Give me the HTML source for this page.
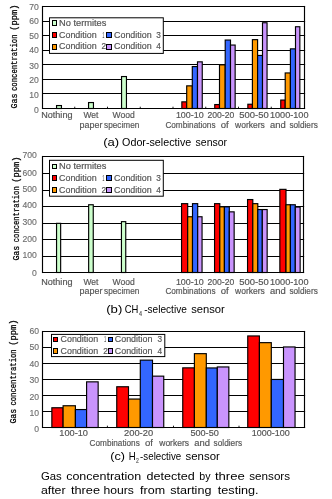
<!DOCTYPE html>
<html><head><meta charset="utf-8"><style>
html,body{margin:0;padding:0;background:#fff;width:332px;height:499px;overflow:hidden}
svg{display:block;font-family:"Liberation Sans", sans-serif;will-change:transform}
</style></head><body>
<svg width="332" height="499" viewBox="0 0 332 499">
<line x1="42.00" y1="6.50" x2="305.10" y2="6.50" stroke="#000" stroke-width="1.15"/>
<line x1="42.00" y1="21.50" x2="305.10" y2="21.50" stroke="#000" stroke-width="1.15"/>
<line x1="42.00" y1="35.50" x2="305.10" y2="35.50" stroke="#000" stroke-width="1.15"/>
<line x1="42.00" y1="50.50" x2="305.10" y2="50.50" stroke="#000" stroke-width="1.15"/>
<line x1="42.00" y1="64.50" x2="305.10" y2="64.50" stroke="#000" stroke-width="1.15"/>
<line x1="42.00" y1="79.50" x2="305.10" y2="79.50" stroke="#000" stroke-width="1.15"/>
<line x1="42.00" y1="93.50" x2="305.10" y2="93.50" stroke="#000" stroke-width="1.15"/>
<line x1="42.00" y1="108.50" x2="305.10" y2="108.50" stroke="#000" stroke-width="1.15"/>
<line x1="42.50" y1="5.95" x2="42.50" y2="109.05" stroke="#000" stroke-width="1.15"/>
<line x1="304.50" y1="5.95" x2="304.50" y2="109.05" stroke="#000" stroke-width="1.15"/>
<line x1="74.75" y1="106.70" x2="74.75" y2="108.50" stroke="#000" stroke-width="0.9"/>
<line x1="107.50" y1="106.70" x2="107.50" y2="108.50" stroke="#000" stroke-width="0.9"/>
<line x1="140.25" y1="106.70" x2="140.25" y2="108.50" stroke="#000" stroke-width="0.9"/>
<line x1="173.00" y1="106.70" x2="173.00" y2="108.50" stroke="#000" stroke-width="0.9"/>
<line x1="205.75" y1="106.70" x2="205.75" y2="108.50" stroke="#000" stroke-width="0.9"/>
<line x1="238.50" y1="106.70" x2="238.50" y2="108.50" stroke="#000" stroke-width="0.9"/>
<line x1="271.25" y1="106.70" x2="271.25" y2="108.50" stroke="#000" stroke-width="0.9"/>
<rect x="56.55" y="105.55" width="4.90" height="2.95" fill="#ccffcc" stroke="#000" stroke-width="1.15"/>
<rect x="88.55" y="102.55" width="4.90" height="5.95" fill="#ccffcc" stroke="#000" stroke-width="1.15"/>
<rect x="121.55" y="76.55" width="4.90" height="31.95" fill="#ccffcc" stroke="#000" stroke-width="1.15"/>
<rect x="181.85" y="101.85" width="4.85" height="6.65" fill="#ff0000" stroke="#000" stroke-width="1.15"/>
<rect x="186.70" y="85.85" width="5.60" height="22.65" fill="#ff9900" stroke="#000" stroke-width="1.15"/>
<rect x="192.30" y="66.55" width="5.20" height="41.95" fill="#3366ff" stroke="#000" stroke-width="1.15"/>
<rect x="197.50" y="61.85" width="4.75" height="46.65" fill="#c994fd" stroke="#000" stroke-width="1.15"/>
<rect x="214.75" y="104.55" width="4.75" height="3.95" fill="#ff0000" stroke="#000" stroke-width="1.15"/>
<rect x="219.50" y="64.85" width="5.70" height="43.65" fill="#ff9900" stroke="#000" stroke-width="1.15"/>
<rect x="225.20" y="40.05" width="5.30" height="68.45" fill="#3366ff" stroke="#000" stroke-width="1.15"/>
<rect x="230.50" y="45.05" width="4.65" height="63.45" fill="#c994fd" stroke="#000" stroke-width="1.15"/>
<rect x="247.85" y="104.25" width="4.55" height="4.25" fill="#ff0000" stroke="#000" stroke-width="1.15"/>
<rect x="252.40" y="39.65" width="5.20" height="68.85" fill="#ff9900" stroke="#000" stroke-width="1.15"/>
<rect x="257.60" y="55.45" width="4.90" height="53.05" fill="#3366ff" stroke="#000" stroke-width="1.15"/>
<rect x="262.50" y="22.75" width="4.55" height="85.75" fill="#c994fd" stroke="#000" stroke-width="1.15"/>
<rect x="280.75" y="100.05" width="4.45" height="8.45" fill="#ff0000" stroke="#000" stroke-width="1.15"/>
<rect x="285.20" y="72.95" width="5.20" height="35.55" fill="#ff9900" stroke="#000" stroke-width="1.15"/>
<rect x="290.40" y="48.85" width="5.10" height="59.65" fill="#3366ff" stroke="#000" stroke-width="1.15"/>
<rect x="295.50" y="26.75" width="4.35" height="81.75" fill="#c994fd" stroke="#000" stroke-width="1.15"/>
<text x="29.299999999999997" y="9.55" font-size="8.8" fill="#707070" textLength="9.60" lengthAdjust="spacingAndGlyphs" stroke="#707070" stroke-width="0.15">70</text>
<text x="29.299999999999997" y="24.45" font-size="8.8" fill="#707070" textLength="9.60" lengthAdjust="spacingAndGlyphs" stroke="#707070" stroke-width="0.15">60</text>
<text x="29.299999999999997" y="38.650000000000006" font-size="8.8" fill="#707070" textLength="9.60" lengthAdjust="spacingAndGlyphs" stroke="#707070" stroke-width="0.15">50</text>
<text x="29.299999999999997" y="53.45" font-size="8.8" fill="#707070" textLength="9.60" lengthAdjust="spacingAndGlyphs" stroke="#707070" stroke-width="0.15">40</text>
<text x="29.299999999999997" y="68.55" font-size="8.8" fill="#707070" textLength="9.60" lengthAdjust="spacingAndGlyphs" stroke="#707070" stroke-width="0.15">30</text>
<text x="29.299999999999997" y="82.55" font-size="8.8" fill="#707070" textLength="9.60" lengthAdjust="spacingAndGlyphs" stroke="#707070" stroke-width="0.15">20</text>
<text x="29.299999999999997" y="97.55" font-size="8.8" fill="#707070" textLength="9.60" lengthAdjust="spacingAndGlyphs" stroke="#707070" stroke-width="0.15">10</text>
<text x="34.1" y="112.65" font-size="8.8" fill="#707070" textLength="4.80" lengthAdjust="spacingAndGlyphs" stroke="#707070" stroke-width="0.15">0</text>
<rect x="49.50" y="17.80" width="113.80" height="35.60" fill="#fff" stroke="#000" stroke-width="1.0"/>
<rect x="52.50" y="20.50" width="4.00" height="5.00" fill="#ccffcc" stroke="#000" stroke-width="1.0"/>
<text x="59.00" y="25.6" font-size="9" fill="#555555" textLength="47.39" lengthAdjust="spacingAndGlyphs" stroke="#555555" stroke-width="0.18">No termites</text>
<rect x="52.50" y="32.50" width="4.00" height="5.00" fill="#ff0000" stroke="#000" stroke-width="1.0"/>
<text x="59.00" y="37.5" font-size="9" fill="#555555" textLength="37.61" lengthAdjust="spacingAndGlyphs" stroke="#555555" stroke-width="0.18">Condition</text>
<text x="102.40" y="37.5" font-size="9" fill="#555555" textLength="1.80" lengthAdjust="spacingAndGlyphs" stroke="#555555" stroke-width="0.18">1</text>
<rect x="52.50" y="44.50" width="4.00" height="5.00" fill="#ff9900" stroke="#000" stroke-width="1.0"/>
<text x="59.00" y="49.4" font-size="9" fill="#555555" textLength="37.61" lengthAdjust="spacingAndGlyphs" stroke="#555555" stroke-width="0.18">Condition</text>
<text x="101.40" y="49.4" font-size="9" fill="#555555" textLength="4.60" lengthAdjust="spacingAndGlyphs" stroke="#555555" stroke-width="0.18">2</text>
<rect x="106.50" y="32.50" width="5.00" height="5.00" fill="#3366ff" stroke="#000" stroke-width="1.0"/>
<text x="114.00" y="37.5" font-size="9" fill="#555555" textLength="37.61" lengthAdjust="spacingAndGlyphs" stroke="#555555" stroke-width="0.18">Condition</text>
<text x="156.20" y="37.5" font-size="9" fill="#555555" textLength="4.60" lengthAdjust="spacingAndGlyphs" stroke="#555555" stroke-width="0.18">3</text>
<rect x="106.50" y="44.50" width="5.00" height="5.00" fill="#c994fd" stroke="#000" stroke-width="1.0"/>
<text x="114.00" y="49.4" font-size="9" fill="#555555" textLength="37.61" lengthAdjust="spacingAndGlyphs" stroke="#555555" stroke-width="0.18">Condition</text>
<text x="156.20" y="49.4" font-size="9" fill="#555555" textLength="4.60" lengthAdjust="spacingAndGlyphs" stroke="#555555" stroke-width="0.18">4</text>
<text transform="translate(16.5,108.60) rotate(-90)" x="0" y="0" font-size="8.5" fill="#000" textLength="15.10" lengthAdjust="spacingAndGlyphs" font-family="Liberation Mono, monospace" stroke="#000" stroke-width="0.25">Gas</text>
<text transform="translate(16.5,91.00) rotate(-90)" x="0" y="0" font-size="8.5" fill="#000" textLength="56.49" lengthAdjust="spacingAndGlyphs" font-family="Liberation Mono, monospace" stroke="#000" stroke-width="0.25">concentration</text>
<text transform="translate(16.5,30.63) rotate(-90)" x="0" y="0" font-size="8.5" fill="#000" textLength="26.15" lengthAdjust="spacingAndGlyphs" font-family="Liberation Mono, monospace" stroke="#000" stroke-width="0.25">(ppm)</text>
<text x="41.20" y="118.3" font-size="9" fill="#555555" textLength="31.31" lengthAdjust="spacingAndGlyphs" stroke="#555555" stroke-width="0.18">Nothing</text>
<text x="83.40" y="118.3" font-size="9" fill="#555555" textLength="14.93" lengthAdjust="spacingAndGlyphs" stroke="#555555" stroke-width="0.18">Wet</text>
<text x="112.50" y="118.3" font-size="9" fill="#555555" textLength="22.21" lengthAdjust="spacingAndGlyphs" stroke="#555555" stroke-width="0.18">Wood</text>
<text x="175.90" y="118.3" font-size="9" fill="#555555" textLength="27.81" lengthAdjust="spacingAndGlyphs" stroke="#555555" stroke-width="0.18">100-10</text>
<text x="207.50" y="118.3" font-size="9" fill="#555555" textLength="26.81" lengthAdjust="spacingAndGlyphs" stroke="#555555" stroke-width="0.18">200-20</text>
<text x="239.30" y="118.3" font-size="9" fill="#555555" textLength="29.41" lengthAdjust="spacingAndGlyphs" stroke="#555555" stroke-width="0.18">500-50</text>
<text x="269.90" y="118.3" font-size="9" fill="#555555" textLength="38.61" lengthAdjust="spacingAndGlyphs" stroke="#555555" stroke-width="0.18">1000-100</text>
<text x="79.60" y="127.8" font-size="9" fill="#555555" textLength="22.80" lengthAdjust="spacingAndGlyphs" stroke="#555555" stroke-width="0.18">paper</text>
<text x="104.10" y="127.8" font-size="9" fill="#555555" textLength="35.20" lengthAdjust="spacingAndGlyphs" stroke="#555555" stroke-width="0.18">specimen</text>
<text x="165.40" y="127.8" font-size="9" fill="#555555" textLength="50.14" lengthAdjust="spacingAndGlyphs" stroke="#555555" stroke-width="0.18">Combinations</text>
<text x="220.80" y="127.8" font-size="9" fill="#555555" textLength="7.97" lengthAdjust="spacingAndGlyphs" stroke="#555555" stroke-width="0.18">of</text>
<text x="235.05" y="127.8" font-size="9" fill="#555555" textLength="29.78" lengthAdjust="spacingAndGlyphs" stroke="#555555" stroke-width="0.18">workers</text>
<text x="270.10" y="127.8" font-size="9" fill="#555555" textLength="15.71" lengthAdjust="spacingAndGlyphs" stroke="#555555" stroke-width="0.18">and</text>
<text x="289.40" y="127.8" font-size="9" fill="#555555" textLength="28.44" lengthAdjust="spacingAndGlyphs" stroke="#555555" stroke-width="0.18">soldiers</text>
<text x="103.20" y="145.6" font-size="10.5" fill="#000" textLength="16.02" lengthAdjust="spacingAndGlyphs">(a)</text>
<text x="122.10" y="145.6" font-size="10.5" fill="#000" textLength="69.14" lengthAdjust="spacingAndGlyphs">Odor-selective</text>
<text x="195.60" y="145.6" font-size="10.5" fill="#000" textLength="31.50" lengthAdjust="spacingAndGlyphs">sensor</text>
<line x1="42.00" y1="156.50" x2="304.10" y2="156.50" stroke="#000" stroke-width="1.15"/>
<line x1="42.00" y1="173.50" x2="304.10" y2="173.50" stroke="#000" stroke-width="1.15"/>
<line x1="42.00" y1="190.50" x2="304.10" y2="190.50" stroke="#000" stroke-width="1.15"/>
<line x1="42.00" y1="206.50" x2="304.10" y2="206.50" stroke="#000" stroke-width="1.15"/>
<line x1="42.00" y1="223.50" x2="304.10" y2="223.50" stroke="#000" stroke-width="1.15"/>
<line x1="42.00" y1="239.50" x2="304.10" y2="239.50" stroke="#000" stroke-width="1.15"/>
<line x1="42.00" y1="256.50" x2="304.10" y2="256.50" stroke="#000" stroke-width="1.15"/>
<line x1="42.00" y1="272.50" x2="304.10" y2="272.50" stroke="#000" stroke-width="1.15"/>
<line x1="42.50" y1="155.95" x2="42.50" y2="273.05" stroke="#000" stroke-width="1.15"/>
<line x1="303.50" y1="155.95" x2="303.50" y2="273.05" stroke="#000" stroke-width="1.15"/>
<rect x="56.55" y="223.35" width="4.10" height="49.15" fill="#ccffcc" stroke="#000" stroke-width="1.15"/>
<rect x="88.65" y="204.75" width="4.60" height="67.75" fill="#ccffcc" stroke="#000" stroke-width="1.15"/>
<rect x="121.45" y="221.65" width="4.30" height="50.85" fill="#ccffcc" stroke="#000" stroke-width="1.15"/>
<rect x="181.55" y="203.65" width="6.15" height="68.85" fill="#ff0000" stroke="#000" stroke-width="1.15"/>
<rect x="187.70" y="216.75" width="4.80" height="55.75" fill="#ff9900" stroke="#000" stroke-width="1.15"/>
<rect x="192.50" y="203.65" width="5.20" height="68.85" fill="#3366ff" stroke="#000" stroke-width="1.15"/>
<rect x="197.70" y="216.75" width="4.35" height="55.75" fill="#c994fd" stroke="#000" stroke-width="1.15"/>
<rect x="214.55" y="203.65" width="5.25" height="68.85" fill="#ff0000" stroke="#000" stroke-width="1.15"/>
<rect x="219.80" y="206.85" width="4.60" height="65.65" fill="#ff9900" stroke="#000" stroke-width="1.15"/>
<rect x="224.40" y="206.85" width="4.90" height="65.65" fill="#3366ff" stroke="#000" stroke-width="1.15"/>
<rect x="229.30" y="211.85" width="4.85" height="60.65" fill="#c994fd" stroke="#000" stroke-width="1.15"/>
<rect x="247.55" y="199.55" width="5.25" height="72.95" fill="#ff0000" stroke="#000" stroke-width="1.15"/>
<rect x="252.80" y="203.65" width="5.00" height="68.85" fill="#ff9900" stroke="#000" stroke-width="1.15"/>
<rect x="257.80" y="209.55" width="4.50" height="62.95" fill="#3366ff" stroke="#000" stroke-width="1.15"/>
<rect x="262.30" y="209.55" width="4.85" height="62.95" fill="#c994fd" stroke="#000" stroke-width="1.15"/>
<rect x="279.85" y="189.35" width="6.15" height="83.15" fill="#ff0000" stroke="#000" stroke-width="1.15"/>
<rect x="286.00" y="204.75" width="4.40" height="67.75" fill="#ff9900" stroke="#000" stroke-width="1.15"/>
<rect x="290.40" y="204.75" width="4.90" height="67.75" fill="#3366ff" stroke="#000" stroke-width="1.15"/>
<rect x="295.30" y="207.05" width="4.85" height="65.45" fill="#c994fd" stroke="#000" stroke-width="1.15"/>
<text x="22.5" y="158.45" font-size="8.8" fill="#707070" textLength="14.40" lengthAdjust="spacingAndGlyphs" stroke="#707070" stroke-width="0.15">700</text>
<text x="22.5" y="175.64999999999998" font-size="8.8" fill="#707070" textLength="14.40" lengthAdjust="spacingAndGlyphs" stroke="#707070" stroke-width="0.15">600</text>
<text x="22.5" y="192.45" font-size="8.8" fill="#707070" textLength="14.40" lengthAdjust="spacingAndGlyphs" stroke="#707070" stroke-width="0.15">500</text>
<text x="22.5" y="208.45" font-size="8.8" fill="#707070" textLength="14.40" lengthAdjust="spacingAndGlyphs" stroke="#707070" stroke-width="0.15">400</text>
<text x="22.5" y="225.45" font-size="8.8" fill="#707070" textLength="14.40" lengthAdjust="spacingAndGlyphs" stroke="#707070" stroke-width="0.15">300</text>
<text x="22.5" y="242.35" font-size="8.8" fill="#707070" textLength="14.40" lengthAdjust="spacingAndGlyphs" stroke="#707070" stroke-width="0.15">200</text>
<text x="22.5" y="258.45" font-size="8.8" fill="#707070" textLength="14.40" lengthAdjust="spacingAndGlyphs" stroke="#707070" stroke-width="0.15">100</text>
<text x="32.1" y="275.75" font-size="8.8" fill="#707070" textLength="4.80" lengthAdjust="spacingAndGlyphs" stroke="#707070" stroke-width="0.15">0</text>
<rect x="49.50" y="160.30" width="113.80" height="35.90" fill="#fff" stroke="#000" stroke-width="1.0"/>
<rect x="52.50" y="164.50" width="4.00" height="4.00" fill="#ccffcc" stroke="#000" stroke-width="1.0"/>
<text x="59.00" y="168.8" font-size="9" fill="#555555" textLength="47.39" lengthAdjust="spacingAndGlyphs" stroke="#555555" stroke-width="0.18">No termites</text>
<rect x="52.50" y="175.50" width="4.00" height="5.00" fill="#ff0000" stroke="#000" stroke-width="1.0"/>
<text x="59.00" y="180.7" font-size="9" fill="#555555" textLength="37.61" lengthAdjust="spacingAndGlyphs" stroke="#555555" stroke-width="0.18">Condition</text>
<text x="102.40" y="180.7" font-size="9" fill="#555555" textLength="1.80" lengthAdjust="spacingAndGlyphs" stroke="#555555" stroke-width="0.18">1</text>
<rect x="52.50" y="187.50" width="4.00" height="5.00" fill="#ff9900" stroke="#000" stroke-width="1.0"/>
<text x="59.00" y="192.5" font-size="9" fill="#555555" textLength="37.61" lengthAdjust="spacingAndGlyphs" stroke="#555555" stroke-width="0.18">Condition</text>
<text x="101.40" y="192.5" font-size="9" fill="#555555" textLength="4.60" lengthAdjust="spacingAndGlyphs" stroke="#555555" stroke-width="0.18">2</text>
<rect x="106.50" y="175.50" width="5.00" height="5.00" fill="#3366ff" stroke="#000" stroke-width="1.0"/>
<text x="114.00" y="180.7" font-size="9" fill="#555555" textLength="37.61" lengthAdjust="spacingAndGlyphs" stroke="#555555" stroke-width="0.18">Condition</text>
<text x="156.20" y="180.7" font-size="9" fill="#555555" textLength="4.60" lengthAdjust="spacingAndGlyphs" stroke="#555555" stroke-width="0.18">3</text>
<rect x="106.50" y="187.50" width="5.00" height="5.00" fill="#c994fd" stroke="#000" stroke-width="1.0"/>
<text x="114.00" y="192.5" font-size="9" fill="#555555" textLength="37.61" lengthAdjust="spacingAndGlyphs" stroke="#555555" stroke-width="0.18">Condition</text>
<text x="156.20" y="192.5" font-size="9" fill="#555555" textLength="4.60" lengthAdjust="spacingAndGlyphs" stroke="#555555" stroke-width="0.18">4</text>
<text transform="translate(18.6,260.60) rotate(-90)" x="0" y="0" font-size="8.5" fill="#000" textLength="14.90" lengthAdjust="spacingAndGlyphs" font-family="Liberation Mono, monospace" stroke="#000" stroke-width="0.25">Gas</text>
<text transform="translate(18.6,242.20) rotate(-90)" x="0" y="0" font-size="8.5" fill="#000" textLength="55.88" lengthAdjust="spacingAndGlyphs" font-family="Liberation Mono, monospace" stroke="#000" stroke-width="0.25">concentration</text>
<text transform="translate(18.6,182.63) rotate(-90)" x="0" y="0" font-size="8.5" fill="#000" textLength="26.15" lengthAdjust="spacingAndGlyphs" font-family="Liberation Mono, monospace" stroke="#000" stroke-width="0.25">(ppm)</text>
<text x="41.20" y="284.8" font-size="9" fill="#555555" textLength="31.31" lengthAdjust="spacingAndGlyphs" stroke="#555555" stroke-width="0.18">Nothing</text>
<text x="83.40" y="284.8" font-size="9" fill="#555555" textLength="14.93" lengthAdjust="spacingAndGlyphs" stroke="#555555" stroke-width="0.18">Wet</text>
<text x="112.50" y="284.8" font-size="9" fill="#555555" textLength="22.21" lengthAdjust="spacingAndGlyphs" stroke="#555555" stroke-width="0.18">Wood</text>
<text x="175.90" y="284.8" font-size="9" fill="#555555" textLength="27.81" lengthAdjust="spacingAndGlyphs" stroke="#555555" stroke-width="0.18">100-10</text>
<text x="207.50" y="284.8" font-size="9" fill="#555555" textLength="26.81" lengthAdjust="spacingAndGlyphs" stroke="#555555" stroke-width="0.18">200-20</text>
<text x="239.30" y="284.8" font-size="9" fill="#555555" textLength="29.41" lengthAdjust="spacingAndGlyphs" stroke="#555555" stroke-width="0.18">500-50</text>
<text x="269.90" y="284.8" font-size="9" fill="#555555" textLength="38.61" lengthAdjust="spacingAndGlyphs" stroke="#555555" stroke-width="0.18">1000-100</text>
<text x="79.60" y="294.0" font-size="9" fill="#555555" textLength="22.80" lengthAdjust="spacingAndGlyphs" stroke="#555555" stroke-width="0.18">paper</text>
<text x="104.10" y="294.0" font-size="9" fill="#555555" textLength="35.20" lengthAdjust="spacingAndGlyphs" stroke="#555555" stroke-width="0.18">specimen</text>
<text x="165.40" y="294.0" font-size="9" fill="#555555" textLength="50.14" lengthAdjust="spacingAndGlyphs" stroke="#555555" stroke-width="0.18">Combinations</text>
<text x="220.80" y="294.0" font-size="9" fill="#555555" textLength="7.97" lengthAdjust="spacingAndGlyphs" stroke="#555555" stroke-width="0.18">of</text>
<text x="235.05" y="294.0" font-size="9" fill="#555555" textLength="29.78" lengthAdjust="spacingAndGlyphs" stroke="#555555" stroke-width="0.18">workers</text>
<text x="270.10" y="294.0" font-size="9" fill="#555555" textLength="15.71" lengthAdjust="spacingAndGlyphs" stroke="#555555" stroke-width="0.18">and</text>
<text x="289.40" y="294.0" font-size="9" fill="#555555" textLength="28.44" lengthAdjust="spacingAndGlyphs" stroke="#555555" stroke-width="0.18">soldiers</text>
<text x="106.20" y="312.5" font-size="10.5" fill="#000" textLength="16.12" lengthAdjust="spacingAndGlyphs">(b)</text>
<text x="124.80" y="312.5" font-size="10.5" fill="#000" textLength="13.62" lengthAdjust="spacingAndGlyphs">CH</text>
<text x="139.00" y="315.6" font-size="6.5" fill="#555555" textLength="3.07" lengthAdjust="spacingAndGlyphs" stroke="#555555" stroke-width="0.18">4</text>
<text x="144.20" y="312.5" font-size="10.5" fill="#000" textLength="42.65" lengthAdjust="spacingAndGlyphs">-selective</text>
<text x="191.20" y="312.5" font-size="10.5" fill="#000" textLength="33.66" lengthAdjust="spacingAndGlyphs">sensor</text>
<line x1="42.00" y1="331.50" x2="305.10" y2="331.50" stroke="#000" stroke-width="1.15"/>
<line x1="42.00" y1="347.50" x2="305.10" y2="347.50" stroke="#000" stroke-width="1.15"/>
<line x1="42.00" y1="363.50" x2="305.10" y2="363.50" stroke="#000" stroke-width="1.15"/>
<line x1="42.00" y1="379.50" x2="305.10" y2="379.50" stroke="#000" stroke-width="1.15"/>
<line x1="42.00" y1="395.50" x2="305.10" y2="395.50" stroke="#000" stroke-width="1.15"/>
<line x1="42.00" y1="411.50" x2="305.10" y2="411.50" stroke="#000" stroke-width="1.15"/>
<line x1="42.00" y1="427.50" x2="305.10" y2="427.50" stroke="#000" stroke-width="1.15"/>
<line x1="42.50" y1="330.95" x2="42.50" y2="428.05" stroke="#000" stroke-width="1.15"/>
<line x1="304.50" y1="330.95" x2="304.50" y2="428.05" stroke="#000" stroke-width="1.15"/>
<line x1="107.40" y1="425.70" x2="107.40" y2="427.50" stroke="#000" stroke-width="0.9"/>
<line x1="173.50" y1="425.70" x2="173.50" y2="427.50" stroke="#000" stroke-width="0.9"/>
<line x1="239.00" y1="425.70" x2="239.00" y2="427.50" stroke="#000" stroke-width="0.9"/>
<rect x="51.85" y="407.75" width="11.25" height="19.75" fill="#ff0000" stroke="#000" stroke-width="1.15"/>
<rect x="63.10" y="405.75" width="12.30" height="21.75" fill="#ff9900" stroke="#000" stroke-width="1.15"/>
<rect x="75.40" y="409.55" width="11.20" height="17.95" fill="#3366ff" stroke="#000" stroke-width="1.15"/>
<rect x="86.60" y="381.85" width="11.55" height="45.65" fill="#c994fd" stroke="#000" stroke-width="1.15"/>
<rect x="116.75" y="386.75" width="11.75" height="40.75" fill="#ff0000" stroke="#000" stroke-width="1.15"/>
<rect x="128.50" y="399.05" width="11.80" height="28.45" fill="#ff9900" stroke="#000" stroke-width="1.15"/>
<rect x="140.30" y="360.15" width="12.20" height="67.35" fill="#3366ff" stroke="#000" stroke-width="1.15"/>
<rect x="152.50" y="376.15" width="11.25" height="51.35" fill="#c994fd" stroke="#000" stroke-width="1.15"/>
<rect x="182.75" y="367.85" width="11.65" height="59.65" fill="#ff0000" stroke="#000" stroke-width="1.15"/>
<rect x="194.40" y="353.65" width="11.90" height="73.85" fill="#ff9900" stroke="#000" stroke-width="1.15"/>
<rect x="206.30" y="367.95" width="11.00" height="59.55" fill="#3366ff" stroke="#000" stroke-width="1.15"/>
<rect x="217.30" y="366.95" width="11.55" height="60.55" fill="#c994fd" stroke="#000" stroke-width="1.15"/>
<rect x="247.75" y="335.95" width="11.65" height="91.55" fill="#ff0000" stroke="#000" stroke-width="1.15"/>
<rect x="259.40" y="342.65" width="11.90" height="84.85" fill="#ff9900" stroke="#000" stroke-width="1.15"/>
<rect x="271.30" y="379.45" width="12.20" height="48.05" fill="#3366ff" stroke="#000" stroke-width="1.15"/>
<rect x="283.50" y="346.95" width="11.55" height="80.55" fill="#c994fd" stroke="#000" stroke-width="1.15"/>
<text x="29.5" y="333.65" font-size="8.8" fill="#707070" textLength="9.60" lengthAdjust="spacingAndGlyphs" stroke="#707070" stroke-width="0.15">60</text>
<text x="29.5" y="350.45" font-size="8.8" fill="#707070" textLength="9.60" lengthAdjust="spacingAndGlyphs" stroke="#707070" stroke-width="0.15">50</text>
<text x="29.5" y="366.65" font-size="8.8" fill="#707070" textLength="9.60" lengthAdjust="spacingAndGlyphs" stroke="#707070" stroke-width="0.15">40</text>
<text x="29.5" y="383.45" font-size="8.8" fill="#707070" textLength="9.60" lengthAdjust="spacingAndGlyphs" stroke="#707070" stroke-width="0.15">30</text>
<text x="29.5" y="399.55" font-size="8.8" fill="#707070" textLength="9.60" lengthAdjust="spacingAndGlyphs" stroke="#707070" stroke-width="0.15">20</text>
<text x="29.5" y="416.45" font-size="8.8" fill="#707070" textLength="9.60" lengthAdjust="spacingAndGlyphs" stroke="#707070" stroke-width="0.15">10</text>
<text x="34.300000000000004" y="432.34999999999997" font-size="8.8" fill="#707070" textLength="4.80" lengthAdjust="spacingAndGlyphs" stroke="#707070" stroke-width="0.15">0</text>
<rect x="51.50" y="334.40" width="113.30" height="22.20" fill="#fff" stroke="#000" stroke-width="1.0"/>
<rect x="53.50" y="337.50" width="4.00" height="4.00" fill="#ff0000" stroke="#000" stroke-width="1.0"/>
<text x="60.50" y="341.8" font-size="9" fill="#555555" textLength="37.61" lengthAdjust="spacingAndGlyphs" stroke="#555555" stroke-width="0.18">Condition</text>
<text x="104.20" y="341.8" font-size="9" fill="#555555" textLength="1.80" lengthAdjust="spacingAndGlyphs" stroke="#555555" stroke-width="0.18">1</text>
<rect x="53.50" y="348.50" width="4.00" height="5.00" fill="#ff9900" stroke="#000" stroke-width="1.0"/>
<text x="60.50" y="353.7" font-size="9" fill="#555555" textLength="37.61" lengthAdjust="spacingAndGlyphs" stroke="#555555" stroke-width="0.18">Condition</text>
<text x="103.20" y="353.7" font-size="9" fill="#555555" textLength="4.60" lengthAdjust="spacingAndGlyphs" stroke="#555555" stroke-width="0.18">2</text>
<rect x="108.50" y="337.50" width="4.00" height="4.00" fill="#3366ff" stroke="#000" stroke-width="1.0"/>
<text x="114.80" y="341.8" font-size="9" fill="#555555" textLength="37.61" lengthAdjust="spacingAndGlyphs" stroke="#555555" stroke-width="0.18">Condition</text>
<text x="157.50" y="341.8" font-size="9" fill="#555555" textLength="4.60" lengthAdjust="spacingAndGlyphs" stroke="#555555" stroke-width="0.18">3</text>
<rect x="108.50" y="348.50" width="4.00" height="5.00" fill="#c994fd" stroke="#000" stroke-width="1.0"/>
<text x="114.80" y="353.7" font-size="9" fill="#555555" textLength="37.61" lengthAdjust="spacingAndGlyphs" stroke="#555555" stroke-width="0.18">Condition</text>
<text x="157.50" y="353.7" font-size="9" fill="#555555" textLength="4.60" lengthAdjust="spacingAndGlyphs" stroke="#555555" stroke-width="0.18">4</text>
<text transform="translate(16.4,423.60) rotate(-90)" x="0" y="0" font-size="8.5" fill="#000" textLength="14.90" lengthAdjust="spacingAndGlyphs" font-family="Liberation Mono, monospace" stroke="#000" stroke-width="0.25">Gas</text>
<text transform="translate(16.4,405.60) rotate(-90)" x="0" y="0" font-size="8.5" fill="#000" textLength="56.29" lengthAdjust="spacingAndGlyphs" font-family="Liberation Mono, monospace" stroke="#000" stroke-width="0.25">concentration</text>
<text transform="translate(16.4,345.63) rotate(-90)" x="0" y="0" font-size="8.5" fill="#000" textLength="26.15" lengthAdjust="spacingAndGlyphs" font-family="Liberation Mono, monospace" stroke="#000" stroke-width="0.25">(ppm)</text>
<text x="59.30" y="435.7" font-size="9" fill="#555555" textLength="28.71" lengthAdjust="spacingAndGlyphs" stroke="#555555" stroke-width="0.18">100-10</text>
<text x="124.00" y="435.7" font-size="9" fill="#555555" textLength="29.11" lengthAdjust="spacingAndGlyphs" stroke="#555555" stroke-width="0.18">200-20</text>
<text x="190.40" y="435.7" font-size="9" fill="#555555" textLength="28.41" lengthAdjust="spacingAndGlyphs" stroke="#555555" stroke-width="0.18">500-50</text>
<text x="251.80" y="435.7" font-size="9" fill="#555555" textLength="38.01" lengthAdjust="spacingAndGlyphs" stroke="#555555" stroke-width="0.18">1000-100</text>
<text x="89.60" y="445.8" font-size="9" fill="#555555" textLength="50.14" lengthAdjust="spacingAndGlyphs" stroke="#555555" stroke-width="0.18">Combinations</text>
<text x="145.00" y="445.8" font-size="9" fill="#555555" textLength="7.97" lengthAdjust="spacingAndGlyphs" stroke="#555555" stroke-width="0.18">of</text>
<text x="159.25" y="445.8" font-size="9" fill="#555555" textLength="29.78" lengthAdjust="spacingAndGlyphs" stroke="#555555" stroke-width="0.18">workers</text>
<text x="194.30" y="445.8" font-size="9" fill="#555555" textLength="15.71" lengthAdjust="spacingAndGlyphs" stroke="#555555" stroke-width="0.18">and</text>
<text x="213.60" y="445.8" font-size="9" fill="#555555" textLength="28.44" lengthAdjust="spacingAndGlyphs" stroke="#555555" stroke-width="0.18">soldiers</text>
<text x="110.20" y="459.5" font-size="10.5" fill="#000" textLength="14.70" lengthAdjust="spacingAndGlyphs">(c)</text>
<text x="128.80" y="459.5" font-size="10.5" fill="#000" textLength="6.93" lengthAdjust="spacingAndGlyphs">H</text>
<text x="136.10" y="462.6" font-size="6.5" fill="#555555" textLength="2.80" lengthAdjust="spacingAndGlyphs" stroke="#555555" stroke-width="0.18">2</text>
<text x="140.10" y="459.5" font-size="10.5" fill="#000" textLength="41.15" lengthAdjust="spacingAndGlyphs">-selective</text>
<text x="185.60" y="459.5" font-size="10.5" fill="#000" textLength="34.15" lengthAdjust="spacingAndGlyphs">sensor</text>
<text x="40.90" y="480" font-size="10.5" fill="#000" textLength="20.77" lengthAdjust="spacingAndGlyphs">Gas</text>
<text x="66.20" y="480" font-size="10.5" fill="#000" textLength="74.91" lengthAdjust="spacingAndGlyphs">concentration</text>
<text x="146.60" y="480" font-size="10.5" fill="#000" textLength="48.21" lengthAdjust="spacingAndGlyphs">detected</text>
<text x="199.30" y="480" font-size="10.5" fill="#000" textLength="11.24" lengthAdjust="spacingAndGlyphs">by</text>
<text x="214.90" y="480" font-size="10.5" fill="#000" textLength="29.90" lengthAdjust="spacingAndGlyphs">three</text>
<text x="249.30" y="480" font-size="10.5" fill="#000" textLength="40.78" lengthAdjust="spacingAndGlyphs">sensors</text>
<text x="40.90" y="493.9" font-size="10.5" fill="#000" textLength="24.71" lengthAdjust="spacingAndGlyphs">after</text>
<text x="71.00" y="493.9" font-size="10.5" fill="#000" textLength="29.01" lengthAdjust="spacingAndGlyphs">three</text>
<text x="103.50" y="493.9" font-size="10.5" fill="#000" textLength="30.39" lengthAdjust="spacingAndGlyphs">hours</text>
<text x="140.10" y="493.9" font-size="10.5" fill="#000" textLength="25.00" lengthAdjust="spacingAndGlyphs">from</text>
<text x="170.20" y="493.9" font-size="10.5" fill="#000" textLength="41.21" lengthAdjust="spacingAndGlyphs">starting</text>
<text x="217.80" y="493.9" font-size="10.5" fill="#000" textLength="40.81" lengthAdjust="spacingAndGlyphs">testing.</text>
</svg></body></html>
